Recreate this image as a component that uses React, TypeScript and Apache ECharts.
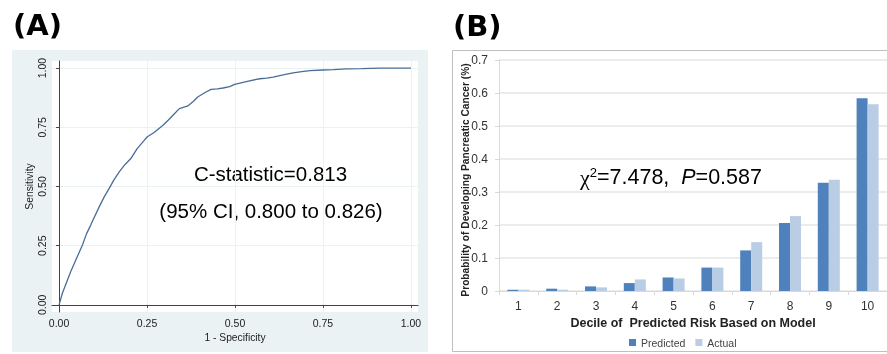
import React, { useEffect, useRef } from "react";
import * as echarts from "echarts";

// ROC curve (panel A)
const rocFpr = [0, 0.0095, 0.033, 0.0665, 0.078, 0.09, 0.114, 0.128, 0.1425, 0.156, 0.171, 0.187, 0.204, 0.222, 0.242, 0.25, 0.27, 0.2946, 0.31, 0.323, 0.342, 0.366, 0.382, 0.394, 0.415, 0.432, 0.45, 0.466, 0.485, 0.499, 0.535, 0.57, 0.59, 0.608, 0.64, 0.665, 0.69, 0.713, 0.75, 0.78, 0.817, 0.86, 0.912, 1.0];
const rocTpr = [0, 0.049, 0.14, 0.253, 0.3, 0.337, 0.414, 0.455, 0.492, 0.528, 0.562, 0.592, 0.618, 0.66, 0.695, 0.709, 0.728, 0.758, 0.78, 0.8, 0.829, 0.84, 0.86, 0.878, 0.897, 0.91, 0.912, 0.916, 0.922, 0.931, 0.944, 0.955, 0.958, 0.962, 0.972, 0.98, 0.985, 0.989, 0.992, 0.994, 0.997, 0.998, 1.0, 1.0];
const rocTicks = [0, 0.25, 0.5, 0.75, 1];

// Calibration bars (panel B)
const deciles = ["1", "2", "3", "4", "5", "6", "7", "8", "9", "10"];
const predicted = [0.004, 0.007, 0.014, 0.024, 0.041, 0.071, 0.123, 0.206, 0.328, 0.584];
const actual = [0.004, 0.004, 0.011, 0.035, 0.038, 0.071, 0.148, 0.227, 0.337, 0.566];

const FONT = "'Liberation Sans', Arial, sans-serif";

export default function App() {
  const ref = useRef<HTMLDivElement>(null);
  useEffect(() => {
    if (!ref.current) return;
    const chart = echarts.init(ref.current, undefined, { renderer: "svg" });
    chart.setOption({
      animation: false,
      textStyle: { fontFamily: FONT },
      graphic: [
        { type: "rect", z: -10, shape: { x: 12, y: 50, width: 416, height: 302 }, style: { fill: "#eaf2f3" } },
        { type: "rect", z: -10, shape: { x: 452.5, y: 50.5, width: 450, height: 301 }, style: { fill: "#fff", stroke: "#bfbfbf", lineWidth: 1 } },
        { type: "text", left: 13, top: 10, style: { text: "(A)", font: "bold 29px 'DejaVu Sans', sans-serif", fill: "#000" } },
        { type: "text", left: 453, top: 11, style: { text: "(B)", font: "bold 29px 'DejaVu Sans', sans-serif", fill: "#000" } },
        { type: "text", x: 270.5, y: 173, style: { text: "C-statistic=0.813", font: `20.5px ${FONT}`, fill: "#000", align: "center", verticalAlign: "middle" } },
        { type: "text", x: 271, y: 210, style: { text: "(95% CI, 0.800 to 0.826)", font: `20.5px ${FONT}`, fill: "#000", align: "center", verticalAlign: "middle" } },
        {
          type: "text", x: 580, y: 177,
          style: {
            text: "{c|χ}{s|2}{a|=7.478,  }{i|P}{a|=0.587}",
            verticalAlign: "middle",
            rich: {
              c: { fontSize: 22, fontFamily: "'Liberation Serif', serif", color: "#000" },
              s: { fontSize: 13, fontFamily: FONT, color: "#000", verticalAlign: "top" },
              a: { fontSize: 21.5, fontFamily: FONT, color: "#000" },
              i: { fontSize: 21.5, fontFamily: FONT, fontStyle: "italic", color: "#000" },
            },
          },
        },
        {
          type: "text", x: 465, y: 180, rotation: Math.PI / 2,
          style: { text: "Probability of Developing Pancreatic Cancer (%)", font: `bold 10.2px ${FONT}`, fill: "#222", align: "center", verticalAlign: "middle" },
        },
      ],
      grid: [
        { left: 52, top: 61, width: 366, height: 251, show: true, backgroundColor: "#fff", borderWidth: 0 },
        { left: 499, top: 60, width: 389, height: 231 },
      ],
      xAxis: [
        {
          gridIndex: 0, type: "value", min: -0.02, max: 1.02,
          name: "1 - Specificity", nameLocation: "middle", nameGap: 16,
          nameTextStyle: { fontSize: 10.3, color: "#222", fontFamily: FONT },
          axisLine: { show: true, lineStyle: { color: "#444", width: 1 } },
          axisTick: { show: true, length: 3, customValues: rocTicks, lineStyle: { color: "#444" } },
          axisLabel: { customValues: rocTicks, fontSize: 10.5, color: "#222", margin: 5, formatter: (v: number) => v.toFixed(2) },
          splitLine: { show: true, lineStyle: { color: "#eaf2f3", width: 1 } },
        },
        {
          gridIndex: 1, type: "category", data: deciles,
          name: "Decile of  Predicted Risk Based on Model", nameLocation: "middle", nameGap: 25,
          nameTextStyle: { fontSize: 12.5, fontWeight: "bold", color: "#222", fontFamily: FONT },
          axisLine: { show: true, lineStyle: { color: "#d9d9d9" } },
          axisTick: { show: true, length: 4, lineStyle: { color: "#d9d9d9" } },
          axisLabel: { fontSize: 12, color: "#333", margin: 9 },
        },
      ],
      yAxis: [
        {
          gridIndex: 0, type: "value", min: -0.03, max: 1.03,
          name: "Sensitivity", nameLocation: "middle", nameGap: 18,
          nameTextStyle: { fontSize: 10.3, color: "#222", fontFamily: FONT },
          axisLine: { show: true, lineStyle: { color: "#444", width: 1 } },
          axisTick: { show: true, length: 3, customValues: rocTicks, lineStyle: { color: "#444" } },
          axisLabel: { customValues: rocTicks, fontSize: 10.5, color: "#222", rotate: 90, margin: 5, formatter: (v: number) => v.toFixed(2) },
          splitLine: { show: true, lineStyle: { color: "#eaf2f3", width: 1 } },
        },
        {
          gridIndex: 1, type: "value", min: 0, max: 0.7, interval: 0.1,
          axisLine: { show: true, lineStyle: { color: "#d9d9d9" } },
          axisTick: { show: true, length: 4, lineStyle: { color: "#d9d9d9" } },
          axisLabel: { fontSize: 12, color: "#333", margin: 11, formatter: (v: number) => (v === 0 ? "0" : String(+v.toFixed(1))) },
          splitLine: { show: true, lineStyle: { color: "#e6e6e6", width: 1.5 } },
        },
      ],
      legend: {
        data: ["Predicted", "Actual"], left: 624, top: 332,
        icon: "rect", itemWidth: 7, itemHeight: 7, itemGap: 10,
        textStyle: { fontSize: 10.5, color: "#444", fontFamily: FONT },
      },
      series: [
        {
          name: "ROC", type: "line", xAxisIndex: 0, yAxisIndex: 0,
          data: rocFpr.map((x, i) => [x, rocTpr[i]]),
          showSymbol: false, smooth: false,
          lineStyle: { color: "#4a6d96", width: 1.3 },
        },
        {
          name: "Predicted", type: "bar", xAxisIndex: 1, yAxisIndex: 1, data: predicted,
          barWidth: 11, barGap: "0%", itemStyle: { color: "#4f81bd" },
        },
        {
          name: "Actual", type: "bar", xAxisIndex: 1, yAxisIndex: 1, data: actual,
          barWidth: 11, barGap: "0%", itemStyle: { color: "#b9cde5" },
        },
      ],
    });
    return () => chart.dispose();
  }, []);
  return <div ref={ref} style={{ position: "fixed", left: 0, top: 0, width: 887, height: 354 }} />;
}
